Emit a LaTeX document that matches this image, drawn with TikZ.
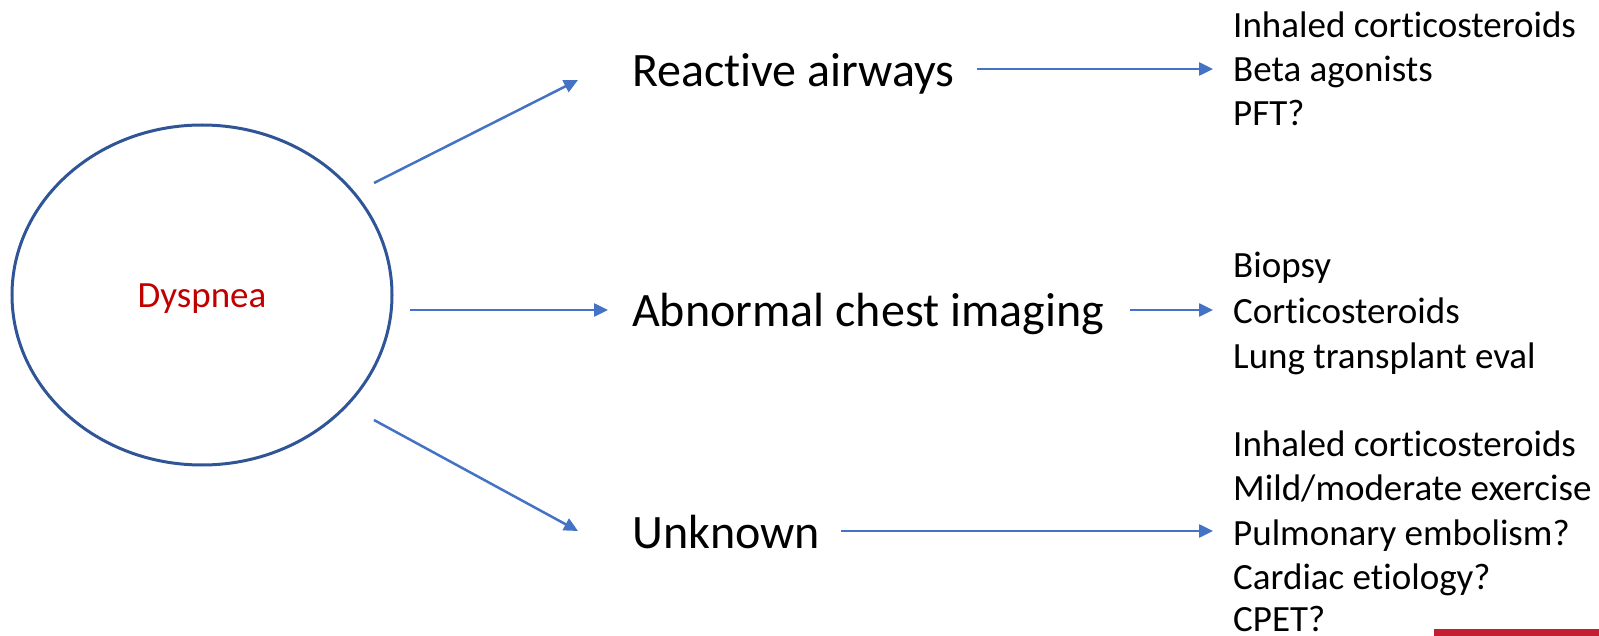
\documentclass[tikz,border=0pt]{standalone}
\usepackage{fontspec}
\setmainfont{Carlito}[Ligatures=NoCommon]
\usetikzlibrary{arrows.meta,shapes.geometric}
\definecolor{arrowblue}{HTML}{4472C4}
\definecolor{ringblue}{HTML}{2F5597}
\definecolor{dysred}{HTML}{C00000}
\definecolor{barred}{RGB}{196,30,50}
\begin{document}
\begin{tikzpicture}[x=1pt,y=-1pt,
  conn/.style={draw=arrowblue, line width=2.5pt, -{Triangle[length=14pt,width=13pt]}},
  mainlabel/.style={anchor=base west, inner sep=0pt, font=\fontsize{48}{58}\selectfont},
  item/.style={anchor=base west, inner sep=0pt, font=\fontsize{37}{44}\selectfont}]
\useasboundingbox (0,0) rectangle (1599,636);
\fill[barred] (1434,629) rectangle (1599,636);
\node[ellipse, draw=ringblue, line width=3pt, minimum width=380pt, minimum height=340pt, inner sep=0pt, text=dysred, text height=26pt, text depth=0pt, font=\fontsize{37}{44}\selectfont] (dys) at (202,295) {Dyspnea};

\node[mainlabel] (ra) at (632,86.5) {Reactive airways};
\node[mainlabel] (aci) at (632,327) {Abnormal chest imaging};
\node[mainlabel] (unk) at (632,548.5) {Unknown};

\node[item] (l1a) at (1233,38) {Inhaled corticosteroids};
\node[item] (l1b) at (1233,82) {Beta agonists};
\node[item] (l1c) at (1233,125.5) {PFT?};

\node[item] (l2a) at (1233,278) {Biopsy};
\node[item] (l2b) at (1233,323.5) {Corticosteroids};
\node[item] (l2c) at (1233,369) {Lung transplant eval};

\node[item] (l3a) at (1233,456) {Inhaled corticosteroids};
\node[item] (l3b) at (1233,500.5) {Mild/moderate exercise};
\node[item] (l3c) at (1233,545) {Pulmonary embolism?};
\node[item] (l3d) at (1233,589.5) {Cardiac etiology?};
\node[item, text depth=0pt] (l3e) at (1233,631) {CPET?};

\coordinate (d1s) at (374,183);  \coordinate (d1e) at (578,80);
\coordinate (d2s) at (410,310);  \coordinate (d2e) at (608,310);
\coordinate (d3s) at (374,420);  \coordinate (d3e) at (578,531);
\coordinate (r1s) at (977,69);   \coordinate (r1e) at (1213,69);
\coordinate (r2s) at (1130,310); \coordinate (r2e) at (1213,310);
\coordinate (r3s) at (841,531);  \coordinate (r3e) at (1213,531);

\draw[conn] (d1s) -- (d1e);
\draw[conn] (d2s) -- (d2e);
\draw[conn] (d3s) -- (d3e);
\draw[conn] (r1s) -- (r1e);
\draw[conn] (r2s) -- (r2e);
\draw[conn] (r3s) -- (r3e);
\end{tikzpicture}
\end{document}
